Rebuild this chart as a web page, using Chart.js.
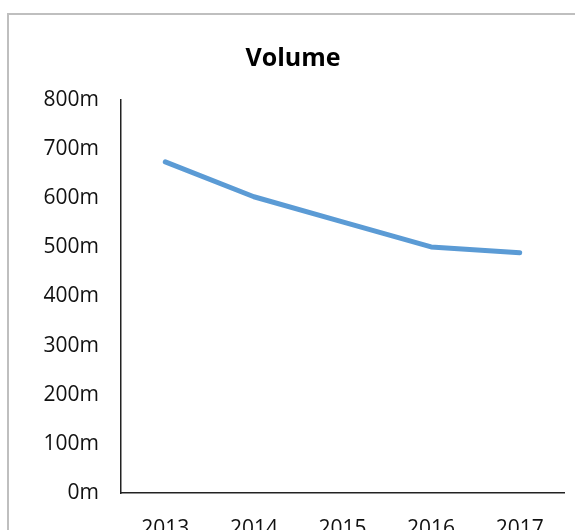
<!DOCTYPE html>
<html>
<head>
<meta charset="utf-8">
<script src="https://cdn.jsdelivr.net/npm/chart.js@4/dist/chart.umd.min.js"></script>
<style>
    html, body { margin: 0; padding: 0; background: #fff; overflow: hidden; }
    #frame {
        position: absolute;
        left: 7px;
        top: 13px;
        width: 568px;
        height: 560px;
        border: 2px solid #bfbfbf;
        background: #fff;
    }
    #volumeChart { display: block; }
</style>
</head>
<body>
<div id="frame">
    <canvas id="volumeChart" width="568" height="560"></canvas>
</div>
<script>
// yearly volume, in millions
const years = ['2013', '2014', '2015', '2016', '2017'];
const volume = [674, 603, 552, 501, 489];
const yTicks = [0, 100, 200, 300, 400, 500, 600, 700, 800];

const axisColor = '#222';
const textColor = '#111';
const fontFamily = "'Open Sans', 'DejaVu Sans', sans-serif";

const ctx = document.getElementById('volumeChart').getContext('2d');

var volumeChart = new Chart(ctx, {
    type: 'line',
    data: {
        labels: years,
        datasets: [{
            label: 'Volume',
            data: volume,
            borderColor: '#5b9bd5',
            backgroundColor: '#5b9bd5',
            borderWidth: 5,
            borderCapStyle: 'round',
            borderJoinStyle: 'round',
            pointRadius: 0,
            pointHoverRadius: 0,
            tension: 0,
            fill: false
        }]
    },
    options: {
        responsive: false,
        animation: false,
        devicePixelRatio: 1,
        layout: {
            // equal side padding keeps the title centred on the frame
            padding: { left: 13, right: 13, top: 0, bottom: 0 }
        },
        plugins: {
            legend: { display: false },
            tooltip: { enabled: false },
            title: {
                display: true,
                text: 'Volume',
                color: '#000',
                font: { family: fontFamily, size: 25, weight: 'bold', lineHeight: 1.2 },
                padding: { top: 29, bottom: 26 }
            }
        },
        scales: {
            x: {
                type: 'category',
                offset: true,
                grid: { display: false, drawTicks: false },
                border: { display: true, color: axisColor, width: 1.5 },
                ticks: {
                    color: textColor,
                    padding: 23,
                    maxRotation: 0,
                    font: { family: fontFamily, size: 21 }
                },
                afterFit: (scale) => { scale.height = 82; }
            },
            y: {
                min: 0,
                max: yTicks[yTicks.length - 1],
                afterBuildTicks: (scale) => {
                    scale.ticks = yTicks.map(v => ({ value: v }));
                },
                grid: { display: false, drawTicks: false },
                border: { display: true, color: axisColor, width: 1.5 },
                ticks: {
                    color: textColor,
                    padding: 22,
                    font: { family: fontFamily, size: 21 },
                    callback: (value) => value + 'm'
                },
                afterFit: (scale) => { scale.width = 99; }
            }
        }
    }
});
</script>
</body>
</html>
